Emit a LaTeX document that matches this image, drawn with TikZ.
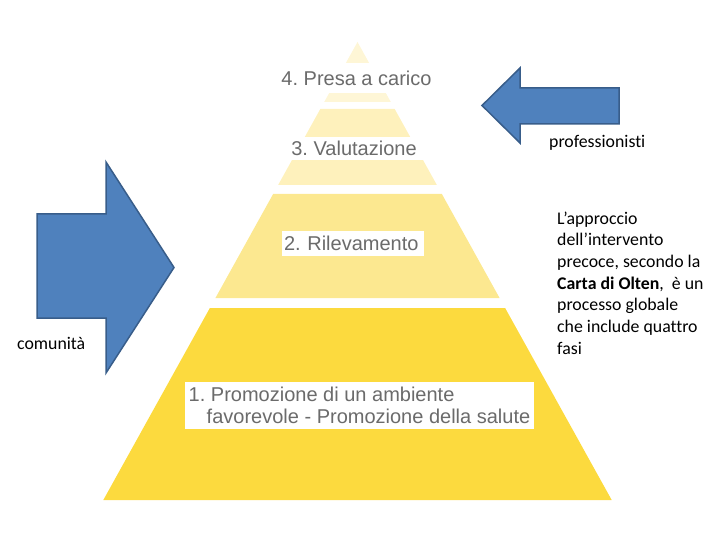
\documentclass[tikz,border=0pt]{standalone}
\usepackage{fontspec}
\usepackage{xcolor}
\usepackage{tikz}
\setmainfont{Liberation Sans}
\newfontfamily\notefont[Ligatures=NoCommon]{Carlito}
\frenchspacing
\definecolor{pyrone}{HTML}{FCDA3E}
\definecolor{pyrtwo}{HTML}{FCE890}
\definecolor{pyrthree}{HTML}{FEF1BC}
\definecolor{pyrfour}{HTML}{FEF6D6}
\definecolor{arrowblue}{HTML}{4F81BD}
\definecolor{arrowedge}{HTML}{385D8A}
\definecolor{labgray}{HTML}{6B6B6B}
\tikzset{
  lvl/.style={fill=white,text=labgray,inner sep=0pt,font=\fontsize{20}{22}\selectfont},
  note/.style={font=\notefont\fontsize{17.8}{21.7}\selectfont,align=left,inner sep=0pt,anchor=west},
  barrow/.style={fill=arrowblue,draw=arrowedge,line width=1.5pt,line join=miter},
}

\begin{document}
\begin{tikzpicture}[x=1pt,y=-1pt]
  \useasboundingbox (0,0) rectangle (720,540);
  \foreach \ya/\yb/\col in {42/102/pyrfour,109/185/pyrthree,194/298/pyrtwo,308/500/pyrone}
    \fill[\col] ({357.5-0.555*(\ya-42)},\ya) -- ({357.5+0.555*(\ya-42)},\ya)
      -- ({357.5+0.555*(\yb-42)},\yb) -- ({357.5-0.555*(\yb-42)},\yb) -- cycle;
  \node[lvl,minimum width=152,minimum height=30] (lev4) at (356.5,78) {4. Presa a carico};
  \node[lvl,minimum width=150,minimum height=23] (lev3) at (354,148.5) {3. Valutazione};
  \node[lvl,text width=138,inner xsep=2pt,minimum height=25] (lev2) at (353,243.5) {2. Rilevamento};
  \node[lvl,minimum width=349,minimum height=47,align=left] (lev1) at (359.5,405.5)
    {1. Promozione di un ambiente\\\hspace*{18pt}favorevole - Promozione della salute};
  \draw[barrow] (619,88) -- (520,88) -- (520,68) -- (482,105.5) -- (520,143) -- (520,124) -- (619,124) -- cycle;
  \draw[barrow] (37,214) -- (106,214) -- (106,162) -- (174,267.5) -- (106,373) -- (106,318) -- (37,318) -- cycle;
  \node[note] (prof) at (549,143) {professionisti};
  \node[note] (desc) at (557,283) {L’approccio\\dell’intervento\\precoce, secondo la\\\textbf{Carta di Olten},~ è un\\processo globale\\che include quattro\\fasi};
  \node[note] (com) at (17,343) {comunità};
\end{tikzpicture}
\end{document}
